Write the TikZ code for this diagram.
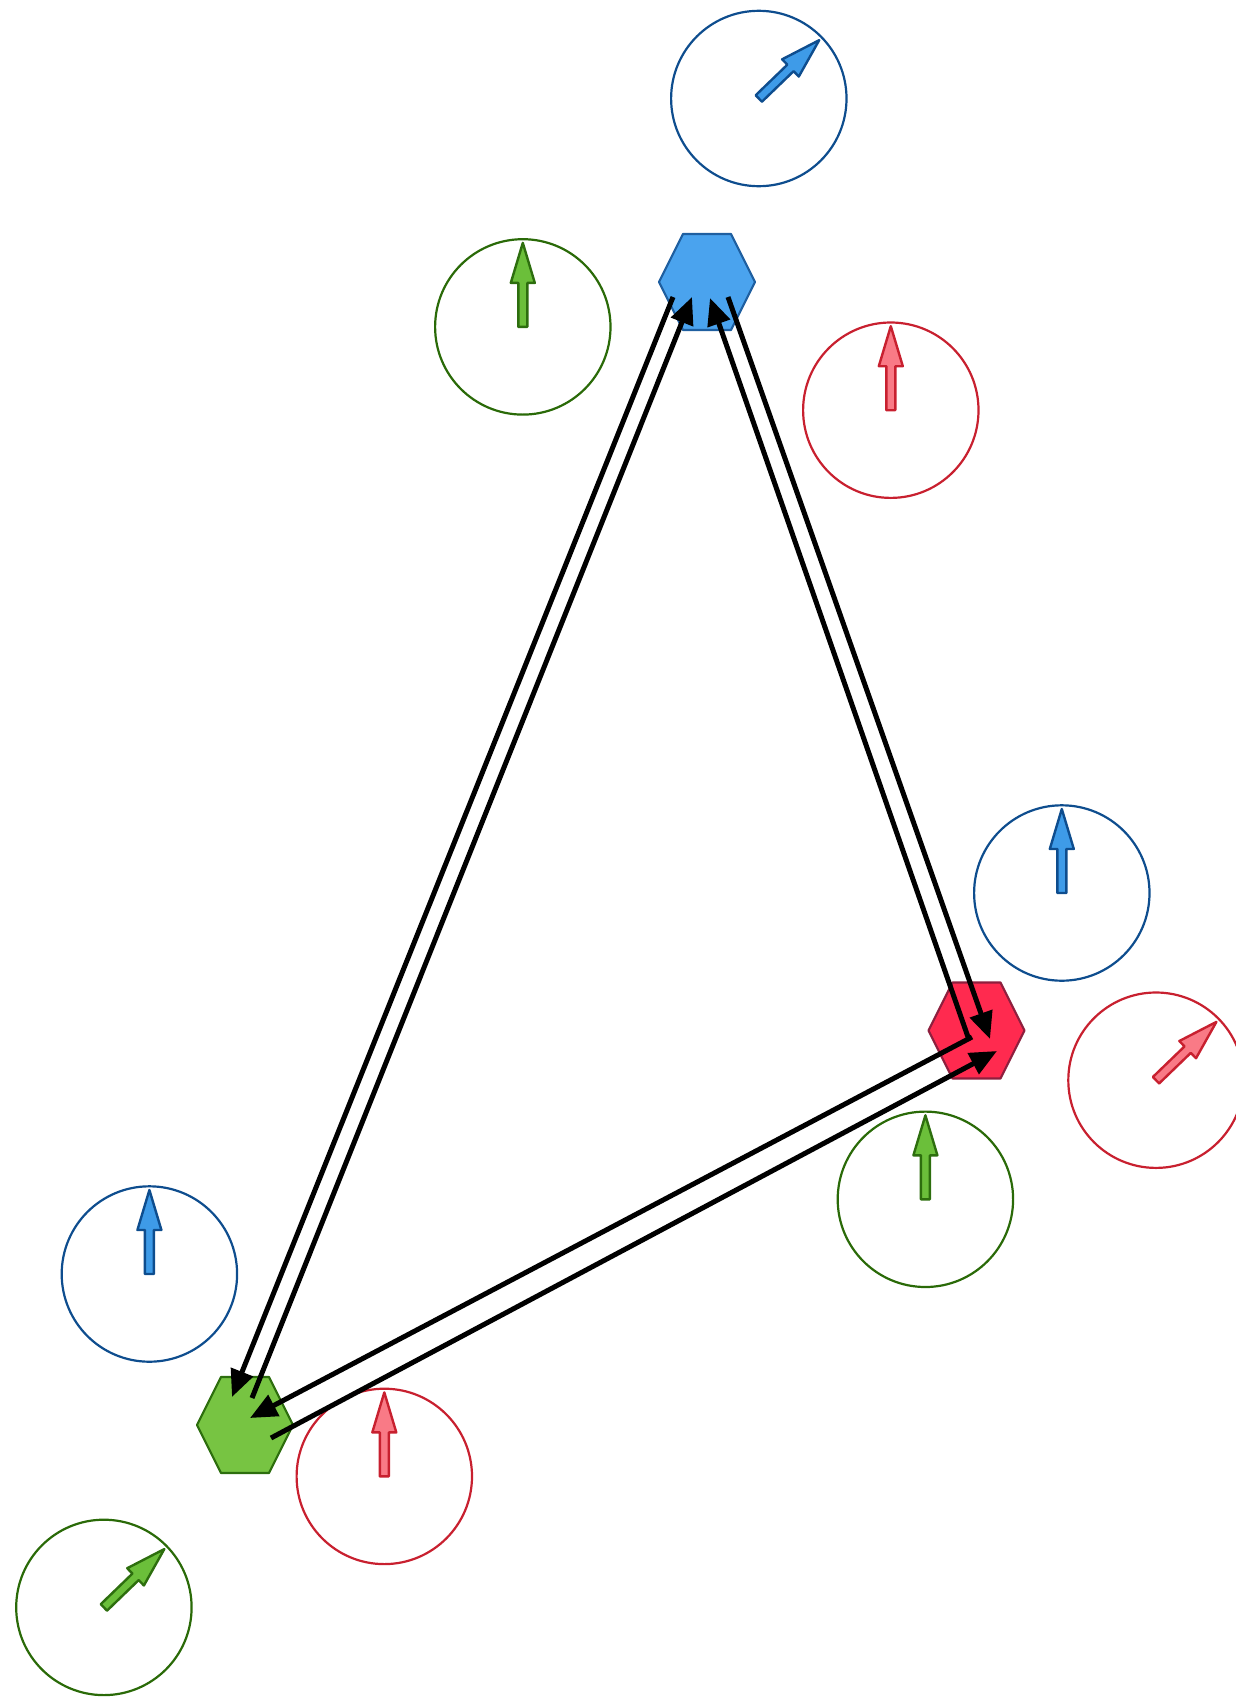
\documentclass[tikz,border=0pt]{standalone}
\usetikzlibrary{calc,arrows.meta}
\definecolor{bfill}{HTML}{4AA3EE}\definecolor{bedge}{HTML}{1F5FA0}
\definecolor{rfill}{HTML}{FF2A4F}\definecolor{redge}{HTML}{8E1F3E}
\definecolor{gfill}{HTML}{77C442}\definecolor{gedge}{HTML}{2D6E0E}
\definecolor{bring}{HTML}{0E4D8E}\definecolor{rring}{HTML}{C8202F}\definecolor{gring}{HTML}{2A6A08}
\definecolor{barf}{HTML}{3E9BE8}\definecolor{rarf}{HTML}{F97A86}\definecolor{garf}{HTML}{6BBF3A}
\tikzset{
  ring/.style={circle,minimum size=175.4pt,inner sep=0pt,line width=2.2pt},
  ringb/.style={ring,draw=bring},
  ringr/.style={ring,draw=rring},
  ringg/.style={ring,draw=gring},
  barrow/.pic={\draw[pic actions,line width=2.4pt,line join=round]
     (0,-4.5) -- (44,-4.5) -- (44,-12) -- (84,0) -- (44,12) -- (44,4.5) -- (0,4.5) -- cycle;},
  hexa/.pic={\draw[pic actions,line width=2.2pt,line join=round]
     (-48,0) -- (-24,-48) -- (24,-48) -- (48,0) -- (24,48) -- (-24,48) -- cycle;},
  arb/.style={fill=barf,draw=bring},
  arr/.style={fill=rarf,draw=rring},
  arg/.style={fill=garf,draw=gedge},
  link/.style={line width=5pt,-{Triangle[length=27pt,width=23pt]}},
}
\begin{document}
\begin{tikzpicture}[x=1pt,y=-1pt]
\useasboundingbox (0,0) rectangle (1235,1697);
% hexagon centres
\coordinate (B) at (707,282);
\coordinate (R) at (976.5,1030.5);
\coordinate (G) at (245,1425);
\pic[fill=bfill,draw=bedge] at (B) {hexa};
\pic[fill=rfill,draw=redge] at (R) {hexa};
\pic[fill=gfill,draw=gedge] at (G) {hexa};
% circles
\node[ringb] (c1) at (758.8,98.5) {};
\node[ringg] (c2) at (522.8,326.9) {};
\node[ringr] (c3) at (890.8,410.2) {};
\node[ringb] (c4) at (1061.8,893.0) {};
\node[ringr] (c5) at (1156.0,1080.2) {};
\node[ringg] (c6) at (925.4,1199.3) {};
\node[ringb] (c7) at (149.4,1274.0) {};
\node[ringr] (c8) at (384.3,1476.4) {};
\node[ringg] (c9) at (103.9,1607.4) {};
% arrows in circles
\pic[arb,rotate=44] at (c1) {barrow};
\pic[arg,rotate=90] at (c2) {barrow};
\pic[arr,rotate=90] at (c3) {barrow};
\pic[arb,rotate=90] at (c4) {barrow};
\pic[arr,rotate=44] at (c5) {barrow};
\pic[arg,rotate=90] at (c6) {barrow};
\pic[arb,rotate=90] at (c7) {barrow};
\pic[arr,rotate=90] at (c8) {barrow};
\pic[arg,rotate=44] at (c9) {barrow};
% links
\draw[link] ($(B)+(-34,15)$) -- ($(G)+(-13,-28)$);
\draw[link] ($(G)+(7,-27)$) -- ($(B)+(-15,15)$);
\draw[link] ($(B)+(21,15)$) -- ($(R)+(13.5,8.5)$);
\draw[link] ($(R)+(-8.5,6.5)$) -- ($(B)+(3,16)$);
\draw[link] ($(R)+(-4.5,6.5)$) -- ($(G)+(5,-7)$);
\draw[link] ($(G)+(26,13)$) -- ($(R)+(20.5,20.5)$);
\end{tikzpicture}
\end{document}
